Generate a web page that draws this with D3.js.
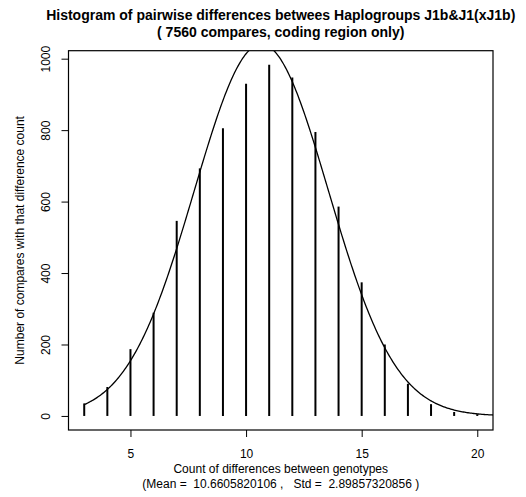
<!DOCTYPE html>
<html>
<head>
<meta charset="utf-8">
<script src="https://cdn.jsdelivr.net/npm/d3@7"></script>
<style>
  body { margin: 0; background: #fff; }
  svg text { font-family: "Liberation Sans", Arial, sans-serif; fill: #000; }
</style>
</head>
<body>
<div id="chart"></div>
<script>
// difference counts and number of compares with that count
const diffs = [3, 4, 5, 6, 7, 8, 9, 10, 11, 12, 13, 14, 15, 16, 17, 18, 19, 20];
const counts = [35, 81, 187, 289, 546, 693, 805, 930, 983, 947, 795, 586, 374, 200, 90, 33, 11, 5];
const xTicks = [5, 10, 15, 20];
const yTicks = [0, 200, 400, 600, 800, 1000];
const nCompares = 7560;
const meanDiff = 10.6605820106;
const stdDiff = 2.89857320856;

const W = 526, H = 497;
const margin = {top: 50.7, right: 33, bottom: 67, left: 68.5};
const width = W - margin.left - margin.right;
const height = H - margin.top - margin.bottom;

const svg = d3.select("#chart").append("svg")
    .attr("width", W)
    .attr("height", H);

const g = svg.append("g")
    .attr("transform", `translate(${margin.left},${margin.top})`);

// R style 4% extension on both axes
const xr = [d3.min(diffs), d3.max(diffs)];
const yr = [0, d3.max(counts)];
const xPad = (xr[1] - xr[0]) * 0.04, yPad = (yr[1] - yr[0]) * 0.04;

const x = d3.scaleLinear().domain([xr[0] - xPad, xr[1] + xPad]).range([0, width]);
const y = d3.scaleLinear().domain([yr[0] - yPad, yr[1] + yPad]).range([height, 0]);

g.append("clipPath").attr("id", "clip")
    .append("rect").attr("width", width).attr("height", height);

// bars (type = "h")
g.selectAll(".bar")
    .data(diffs)
    .enter()
    .append("line")
    .attr("class", "bar")
    .attr("x1", d => x(d)).attr("x2", d => x(d))
    .attr("y1", y(0))
    .attr("y2", (d, i) => y(counts[i]))
    .attr("stroke", "#000")
    .attr("stroke-width", 2);

// fitted normal curve from the stated mean / std
const curvePts = d3.range(3, x.domain()[1] + 0.05, 0.05).map(v => [v,
    nCompares * Math.exp(-((v - meanDiff) ** 2) / (2 * stdDiff * stdDiff)) / (stdDiff * Math.sqrt(2 * Math.PI))]);

g.append("path")
    .datum(curvePts)
    .attr("clip-path", "url(#clip)")
    .attr("fill", "none")
    .attr("stroke", "#000")
    .attr("stroke-width", 1.3)
    .attr("d", d3.line().x(d => x(d[0])).y(d => y(d[1])));

// box
g.append("rect")
    .attr("width", width).attr("height", height)
    .attr("fill", "none").attr("stroke", "#000").attr("stroke-width", 1.2);

// x axis
const xAxis = g.append("g")
    .attr("transform", `translate(0,${height})`)
    .call(d3.axisBottom(x).tickValues(xTicks).tickSize(7).tickPadding(12).tickFormat(d3.format("d")));
xAxis.select(".domain").remove();
xAxis.selectAll("text").style("font-size", "12px");

// y axis, labels rotated like R's las = 0
const yAxis = g.append("g")
    .call(d3.axisLeft(y).tickValues(yTicks).tickSize(7).tickFormat(d3.format("d")));
yAxis.select(".domain").remove();
yAxis.selectAll("text")
    .style("font-size", "12px")
    .attr("text-anchor", "middle")
    .attr("transform", "rotate(-90)")
    .attr("x", 0)
    .attr("y", -19)
    .attr("dy", 0);

// titles
svg.append("text")
    .attr("x", margin.left + width / 2).attr("y", 20)
    .attr("text-anchor", "middle")
    .style("font-size", "14px").style("font-weight", "bold")
    .text("Histogram of pairwise differences betwees Haplogroups J1b&J1(xJ1b)");
svg.append("text")
    .attr("x", margin.left + width / 2).attr("y", 37)
    .attr("text-anchor", "middle")
    .style("font-size", "14px").style("font-weight", "bold")
    .text("( 7560 compares, coding region only)");

svg.append("text")
    .attr("x", margin.left + width / 2).attr("y", 473)
    .attr("text-anchor", "middle")
    .style("font-size", "12px")
    .text("Count of differences between genotypes");
svg.append("text")
    .attr("x", margin.left + width / 2).attr("y", 488)
    .attr("text-anchor", "middle")
    .style("font-size", "12px")
    .style("white-space", "pre")
    .text("(Mean =  10.6605820106 ,   Std =  2.89857320856 )");

svg.append("text")
    .attr("transform", `translate(24,${margin.top + height / 2}) rotate(-90)`)
    .attr("text-anchor", "middle")
    .style("font-size", "12px")
    .text("Number of compares with that difference count");
</script>
</body>
</html>
